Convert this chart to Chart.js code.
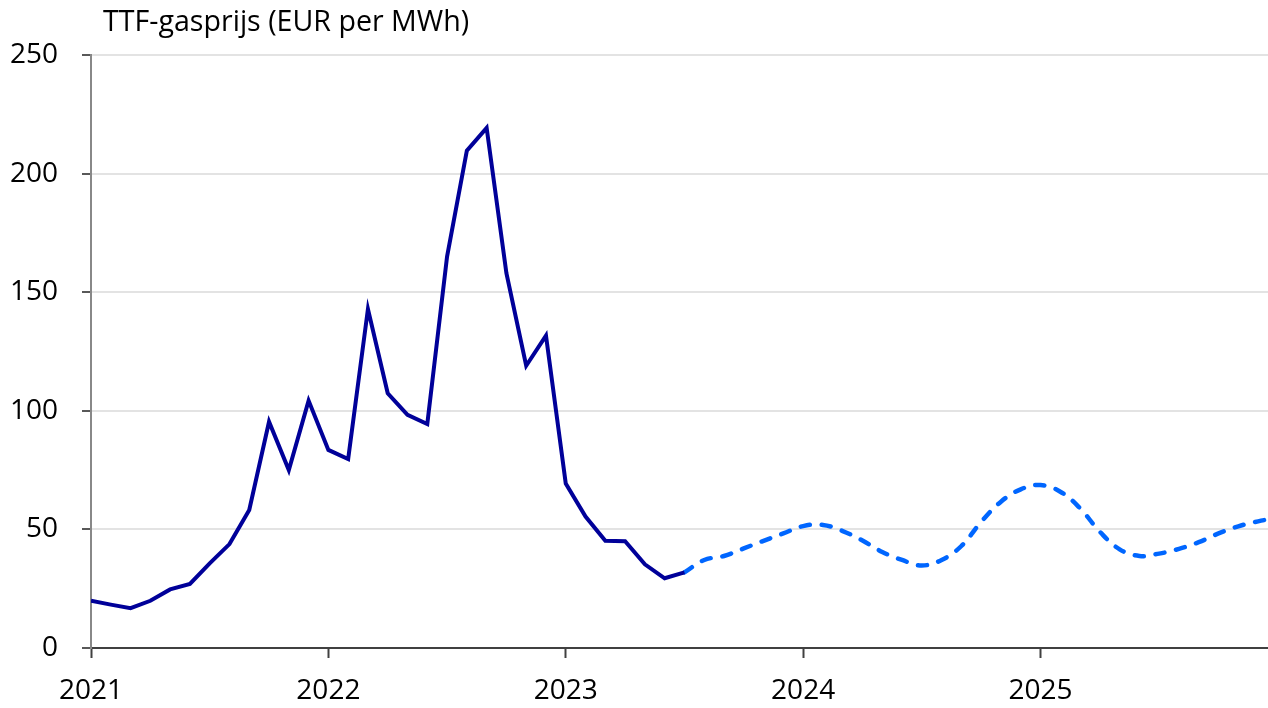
<!DOCTYPE html>
<html>
<head>
<meta charset="utf-8">
<script src="https://cdn.jsdelivr.net/npm/chart.js@4.4.0/dist/chart.umd.min.js"></script>
<style>
html,body{margin:0;padding:0;background:#fff;}
#wrap{width:1268px;height:708px;position:relative;}
</style>
</head>
<body>
<div id="wrap"><canvas id="c"></canvas></div>
<script>
const titleText = 'TTF-gasprijs (EUR per MWh)';
const yearLabels = ['2021','2022','2023','2024','2025'];
const yearIndex = [0, 12, 24, 36, 48];
const yTicks = [0, 50, 100, 150, 200, 250];
// Monthly TTF price, Jan 2021 - Jul 2023 (realised)
const actual = [19.9, 18.3, 16.8, 19.9, 24.7, 27.0, 35.7, 43.8, 58.2, 95.4, 75.0, 104.3,
                83.5, 79.7, 142.9, 107.4, 98.3, 94.4, 165.0, 209.7, 219.3, 158.0, 119.0, 131.7,
                69.3, 55.4, 45.2, 45.0, 35.3, 29.4, 31.9];
// Futures path, Jul 2023 - Jan 2026
const forward = [31.9, 37.1, 38.8, 42.0, 45.2, 48.3, 51.4, 51.9, 49.3, 45.3, 40.5, 37.1,
                 34.8, 37.1, 43.0, 53.2, 61.7, 66.9, 68.7, 65.9, 58.9, 49.0, 41.6, 38.8,
                 39.8, 41.8, 44.6, 48.3, 51.3, 53.4, 55.0];
const forwardStart = 30;

const fontFam = '"Open Sans", "Noto Sans", sans-serif';
const fs = 28;

const actualPts = actual.map((v, i) => ({x: i, y: v}));
const forwardPts = forward.map((v, i) => ({x: i + forwardStart, y: v}));

const titlePlugin = {
  id: 'titleText',
  afterDraw(chart) {
    const ctx = chart.ctx;
    ctx.save();
    ctx.font = '28.6px ' + fontFam;
    ctx.fillStyle = '#000';
    ctx.textBaseline = 'middle';
    ctx.textAlign = 'left';
    ctx.fillText(titleText, 103, 23);
    ctx.restore();
  }
};

new Chart(document.getElementById('c'), {
  type: 'line',
  data: {
    datasets: [
      {data: actualPts, borderColor: '#000099', borderWidth: 4, pointRadius: 0, tension: 0, fill: false, borderJoinStyle: 'miter'},
      {data: forwardPts, borderColor: '#0066ff', borderWidth: 4.5, borderDash: [9, 12], borderCapStyle: 'round', pointRadius: 0, tension: 0.4, fill: false}
    ]
  },
  options: {
    responsive: true,
    maintainAspectRatio: false,
    animation: false,
    layout: {padding: {top: 55, right: 0, bottom: 0, left: 0}},
    plugins: {legend: {display: false}, tooltip: {enabled: false}, title: {display: false}},
    scales: {
      x: {
        type: 'linear', min: 0, max: 59.5,
        border: {display: true, color: '#404040', width: 2},
        grid: {drawOnChartArea: false, drawTicks: true, tickLength: 10, tickColor: '#404040', tickWidth: 2},
        afterBuildTicks: (s) => { s.ticks = yearIndex.map(v => ({value: v})); },
        afterFit: (s) => { s.height = 60; },
        ticks: {
          autoSkip: false, maxRotation: 0, padding: 16, color: '#000',
          font: {family: fontFam, size: fs},
          callback: (v) => { const k = yearIndex.indexOf(v); return k >= 0 ? yearLabels[k] : ''; }
        }
      },
      y: {
        min: 0, max: 250,
        border: {display: true, color: '#888888', width: 2},
        grid: {
          color: (c) => (c.tick && c.tick.value === 0) ? 'rgba(0,0,0,0)' : '#e3e3e3',
          lineWidth: 2, tickLength: 9, tickColor: '#222', tickWidth: 1.5
        },
        afterBuildTicks: (s) => { s.ticks = yTicks.map(v => ({value: v})); },
        afterFit: (s) => { s.width = 91; },
        ticks: {padding: 24, color: '#000', font: {family: fontFam, size: fs}}
      }
    }
  },
  plugins: [titlePlugin]
});
</script>
</body>
</html>
